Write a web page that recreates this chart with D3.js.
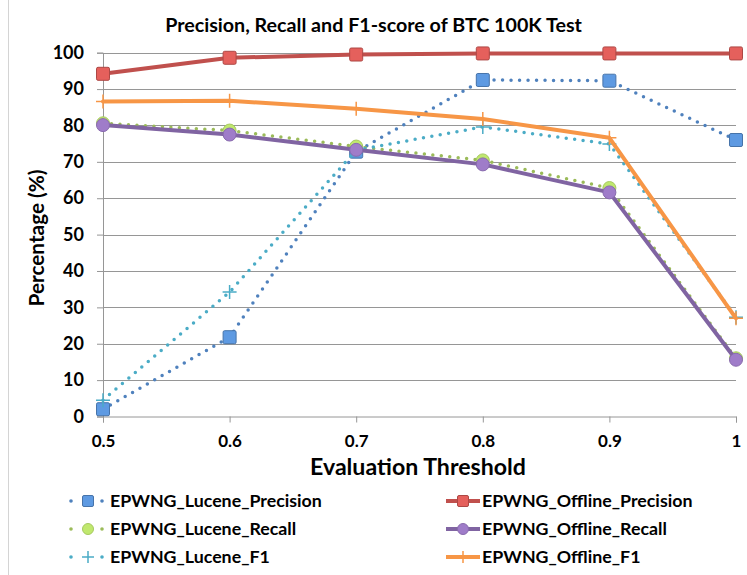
<!DOCTYPE html>
<html><head><meta charset="utf-8">
<script src="https://cdn.jsdelivr.net/npm/d3@7"></script>
<style>body{margin:0;background:#fff}svg{display:block}</style>
</head><body><svg id="c" width="747" height="575"></svg>
<script>
const thresholds = [0.5, 0.6, 0.7, 0.8, 0.9, 1];
const xTickLabels = ["0.5","0.6","0.7","0.8","0.9","1"];
const yTicks = [0,10,20,30,40,50,60,70,80,90,100];
const lucenePrecision = [2, 21.8, 72.8, 92.5, 92.3, 76];
const luceneRecall = [80.6, 78.6, 74.2, 70.4, 62.8, 16];
const luceneF1 = [4.5, 34.2, 73.2, 79.6, 74.9, 27.3];
const offlinePrecision = [94.2, 98.6, 99.5, 99.8, 99.8, 99.8];
const offlineRecall = [80.1, 77.5, 73.3, 69.3, 61.6, 15.6];
const offlineF1 = [86.6, 86.8, 84.6, 81.8, 76.6, 27];

const series = [
  {name:"EPWNG_Lucene_Precision", values:lucenePrecision, color:"#4F81BD", dotted:true, marker:"square"},
  {name:"EPWNG_Lucene_Recall", values:luceneRecall, color:"#9BBB59", dotted:true, marker:"circle"},
  {name:"EPWNG_Lucene_F1", values:luceneF1, color:"#4BACC6", dotted:true, marker:"plus"},
  {name:"EPWNG_Offline_Precision", values:offlinePrecision, color:"#C0504D", dotted:false, marker:"square"},
  {name:"EPWNG_Offline_Recall", values:offlineRecall, color:"#8064A2", dotted:false, marker:"circle"},
  {name:"EPWNG_Offline_F1", values:offlineF1, color:"#F79646", dotted:false, marker:"plus"}
];

const svg = d3.select("#c");
const font = "Lato, 'Liberation Sans', Arial, sans-serif";
const x = d3.scaleLinear().domain([0.5,1]).range([103,736]);
const y = d3.scaleLinear().domain([0,100]).range([416.5,52.7]);

function fit(sel, target) {
  const n = sel.node();
  const w = n.getComputedTextLength();
  const fs = parseFloat(sel.attr("font-size"));
  sel.attr("font-size", (fs*target/w).toFixed(2));
  return sel;
}

svg.append("line").attr("x1",8.5).attr("x2",8.5).attr("y1",0).attr("y2",575).attr("stroke","#d4d4d4");

// gridlines
svg.append("g").selectAll("line").data(yTicks.filter(d=>d>0)).join("line")
  .attr("x1",x(0.5)).attr("x2",x(1)).attr("y1",d=>Math.round(y(d))+0.5).attr("y2",d=>Math.round(y(d))+0.5)
  .attr("stroke","#969696").attr("stroke-width",1);

// y axis
const yAxis = d3.axisLeft(y).tickValues(yTicks).tickSize(6).tickPadding(13).tickFormat(d3.format("d"));
const gy = svg.append("g").attr("transform",`translate(${x(0.5)},0)`).call(yAxis);
gy.select(".domain").attr("stroke","#969696");
gy.selectAll(".tick line").attr("stroke","#969696");
gy.selectAll("text").attr("font-family",font).attr("font-weight","bold").attr("font-size",18).attr("fill","#000");

// x axis
const xAxis = d3.axisBottom(x).tickValues(thresholds).tickSize(6).tickPadding(17).tickFormat((d,i)=>xTickLabels[i]);
const gx = svg.append("g").attr("transform",`translate(0,${y(0)})`).call(xAxis);
gx.select(".domain").attr("stroke","#969696");
gx.selectAll(".tick line").attr("stroke","#969696");
gx.selectAll("text").attr("font-family",font).attr("font-weight","bold").attr("font-size",17).attr("fill","#000").attr("dy","0.45em");

// titles
fit(svg.append("text").attr("x",373.5).attr("y",32).attr("text-anchor","middle").attr("font-family",font)
  .attr("font-weight","bold").attr("font-size",20).text("Precision, Recall and F1-score of BTC 100K Test"), 417);
fit(svg.append("text").attr("x",418).attr("y",475).attr("text-anchor","middle").attr("font-family",font)
  .attr("font-weight","bold").attr("font-size",22).text("Evaluation Threshold"), 216);
fit(svg.append("text").attr("transform","translate(44,238) rotate(-90)").attr("text-anchor","middle").attr("font-family",font)
  .attr("font-weight","bold").attr("font-size",17).text("Percentage (%)"), 137);

const line = d3.line().x((d,i)=>x(thresholds[i])).y(d=>y(d));

function drawMarker(g, type, color, cx, cy, s) {
  if (type==="square") {
    g.append("rect").attr("x",cx-s/2).attr("y",cy-s/2).attr("width",s).attr("height",s).attr("rx",1.5)
      .attr("fill",d3.color(color).brighter(0.5)).attr("stroke",d3.color(color).darker(0.3)).attr("stroke-width",1);
  } else if (type==="circle") {
    g.append("circle").attr("cx",cx).attr("cy",cy).attr("r",s/2)
      .attr("fill",d3.color(color).brighter(0.6)).attr("stroke",d3.color(color).brighter(0.2)).attr("stroke-width",1);
  } else {
    g.append("path").attr("d",`M${cx-s/2},${cy}H${cx+s/2}M${cx},${cy-s/2}V${cy+s/2}`)
      .attr("stroke",color).attr("stroke-width",1.5);
  }
}

const plot = svg.append("g");
series.forEach(s=>{
  const g = plot.append("g");
  g.append("path").attr("d",line(s.values)).attr("fill","none").attr("stroke",s.color)
    .attr("stroke-width",s.dotted?3.5:4).attr("stroke-linecap","round").attr("stroke-linejoin","round")
    .attr("stroke-dasharray",s.dotted?"0,8.5":null);
  s.values.forEach((v,i)=>drawMarker(g,s.marker,s.color,x(thresholds[i]),y(v),s.marker==="plus"?14:13));
});

// legend
const legend = svg.append("g");
series.forEach((s,k)=>{
  const col = k<3?0:1, row = k%3;
  const ly = 501 + row*28;
  const g = legend.append("g");
  let t;
  if (col===0) {
    [71,102].forEach(px=>g.append("circle").attr("cx",px).attr("cy",ly).attr("r",1.8).attr("fill",s.color));
    drawMarker(g,s.marker,s.color,88,ly,s.marker==="plus"?12:11);
    t = g.append("text").attr("x",110).attr("y",ly+6).attr("font-family",font).attr("font-weight","bold").attr("font-size",17).text(s.name);
  } else {
    g.append("line").attr("x1",446).attr("x2",480).attr("y1",ly).attr("y2",ly).attr("stroke",s.color).attr("stroke-width",4);
    drawMarker(g,s.marker,s.color,463,ly,s.marker==="plus"?12:11);
    t = g.append("text").attr("x",482).attr("y",ly+6).attr("font-family",font).attr("font-weight","bold").attr("font-size",17).text(s.name);
  }
  if (k===0) { fit(t, 212); }
});
const lfs = legend.select("text").attr("font-size");
legend.selectAll("text").attr("font-size", lfs);
</script></body></html>
